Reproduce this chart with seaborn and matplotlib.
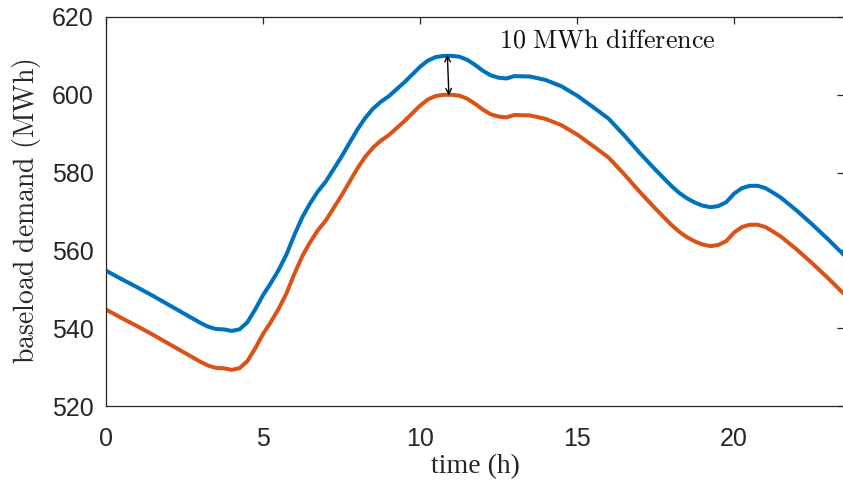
import numpy as np
import pandas as pd
import matplotlib
matplotlib.use("Agg")
import matplotlib.pyplot as plt
import seaborn as sns

hours = [0, 0.5, 1, 1.5, 2, 2.5, 3, 3.25, 3.5, 3.75, 4, 4.25, 4.5, 4.75, 5, 5.25,
         5.5, 5.75, 6, 6.25, 6.5, 6.75, 7, 7.5, 8, 8.25, 8.5, 8.75, 9, 9.5, 10,
         10.25, 10.5, 10.75, 11, 11.25, 11.5, 11.75, 12, 12.25, 12.5, 12.75, 13,
         13.5, 14, 14.5, 15, 15.5, 16, 16.5, 17, 17.5, 18, 18.25, 18.5, 18.75, 19,
         19.25, 19.5, 19.75, 20, 20.25, 20.5, 20.75, 21, 21.25, 21.5, 22, 22.5,
         23, 23.5]

upper = [554.8, 552.6, 550.5, 548.3, 546.0, 543.7, 541.4, 540.4, 539.8, 539.7,
         539.3, 539.7, 541.5, 544.8, 548.5, 551.6, 555.0, 559.0, 564.0, 568.5,
         572.1, 575.2, 577.7, 584.1, 591.0, 594.0, 596.4, 598.2, 599.6, 603.2,
         607.2, 608.8, 609.7, 610.0, 610.0, 609.8, 609.0, 607.7, 606.2, 605.0,
         604.4, 604.2, 604.8, 604.7, 603.8, 602.2, 599.8, 596.9, 593.9, 589.6,
         585.0, 580.7, 576.6, 574.8, 573.4, 572.3, 571.5, 571.1, 571.4, 572.4,
         574.6, 576.0, 576.6, 576.6, 576.0, 574.8, 573.5, 570.2, 566.6, 562.8,
         558.8]

lower = [544.8, 542.6, 540.5, 538.3, 536.0, 533.7, 531.4, 530.4, 529.8, 529.7,
         529.3, 529.7, 531.5, 534.8, 538.5, 541.6, 545.0, 549.0, 554.0, 558.5,
         562.1, 565.2, 567.7, 574.1, 581.0, 584.0, 586.4, 588.2, 589.6, 593.2,
         597.2, 598.8, 599.7, 600.0, 600.0, 599.8, 599.0, 597.7, 596.2, 595.0,
         594.4, 594.2, 594.8, 594.7, 593.8, 592.2, 589.8, 586.9, 583.9, 579.6,
         575.0, 570.7, 566.6, 564.8, 563.4, 562.3, 561.5, 561.1, 561.4, 562.4,
         564.6, 566.0, 566.6, 566.6, 566.0, 564.8, 563.5, 560.2, 556.6, 552.8,
         548.8]

x_ticks = [0, 5, 10, 15, 20]
y_ticks = [520, 540, 560, 580, 600, 620]

df = pd.DataFrame({
    "time": hours + hours,
    "demand": upper + lower,
    "series": ["upper"] * len(hours) + ["lower"] * len(hours),
})

sns.set_theme(style="white")
plt.rcParams["font.family"] = ["Liberation Sans", "DejaVu Sans"]
plt.rcParams["mathtext.fontset"] = "cm"

fig = plt.figure(figsize=(8.43, 4.87), dpi=100)
ax = fig.add_axes([0.1257, 0.1663, 0.8755, 0.7988])

sns.lineplot(data=df, x="time", y="demand", hue="series",
             palette={"upper": "#0072BD", "lower": "#D95319"},
             linewidth=2.9, legend=False, ax=ax)

ax.set_xlim(0, 23.5)
ax.set_ylim(520, 620)
ax.set_xticks(x_ticks)
ax.set_yticks(y_ticks)
ax.tick_params(direction="in", length=5, width=0.9, colors="#262626",
               labelsize=18, top=True, right=True)
ax.tick_params(axis="x", pad=15)
ax.tick_params(axis="y", pad=9)
for lab in ax.get_xticklabels() + ax.get_yticklabels():
    lab.set_color("#262626")
for sp in ax.spines.values():
    sp.set_color("#262626")
    sp.set_linewidth(0.9)

ax.set_xlabel("time (h)", family="Liberation Serif", fontsize=20, color="#262626", labelpad=2)
ax.set_ylabel(r"$\mathrm{baseload\ demand\ (MWh)}$", fontsize=20, color="#262626", labelpad=6)

ax.annotate("", xy=(10.92, 599.8), xytext=(10.87, 610.3),
            arrowprops=dict(arrowstyle="<->", color="black", lw=1.0,
                            shrinkA=0, shrinkB=0, mutation_scale=10))
ax.text(12.51, 612.1, r"$\mathrm{10\ MWh\ difference}$", fontsize=18.8, color="#111111",
        ha="left", va="baseline")

fig.savefig("out.png", dpi=100)
